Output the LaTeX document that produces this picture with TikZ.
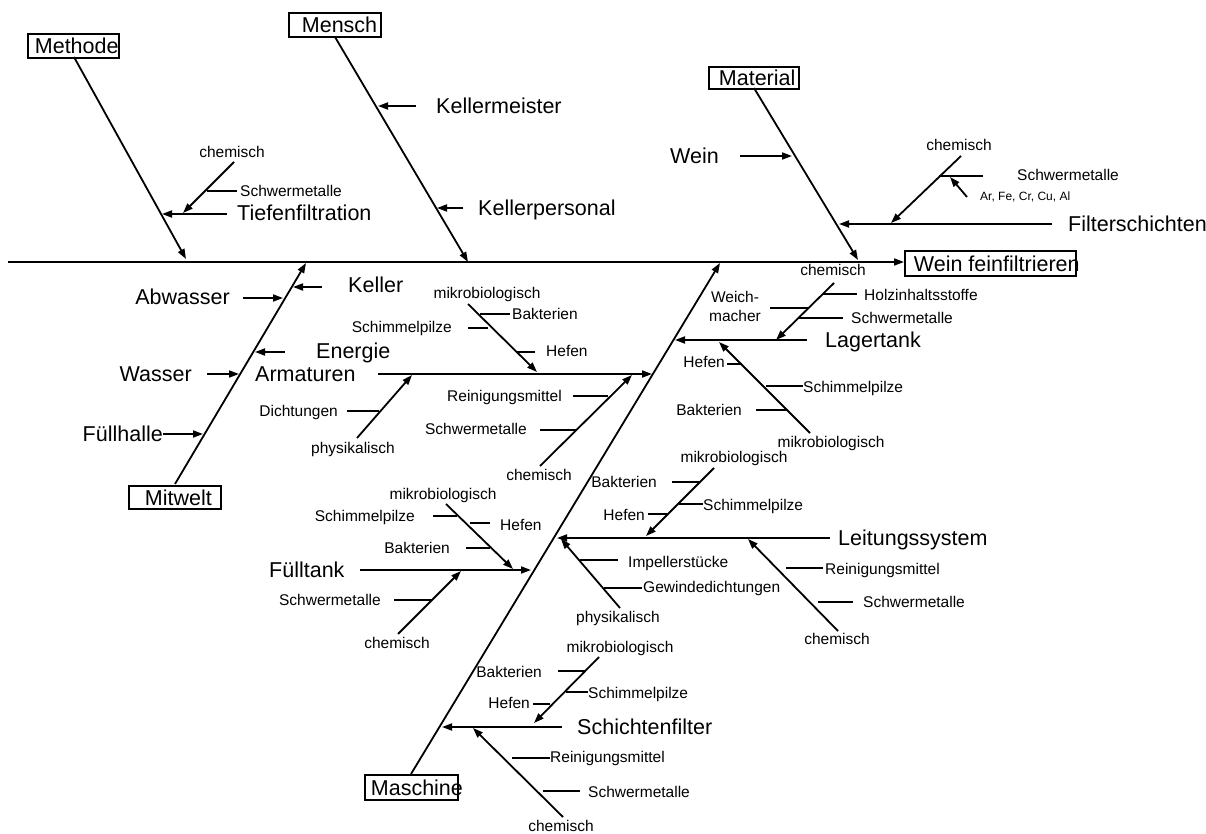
\documentclass[tikz,border=0pt]{standalone}
\usepackage{fontspec}
\setmainfont{Liberation Sans}
\usetikzlibrary{arrows.meta}
\begin{document}
\begin{tikzpicture}[x=1pt,y=-1pt,
  bone/.style={line width=1.8pt},
  arr/.style={line width=1.8pt,-{Triangle[length=10pt,width=7pt]}},
  lbl/.style={font=\fontsize{15.5}{18}\selectfont,inner sep=0pt,text height=11.2pt,text depth=0pt},
  big/.style={font=\fontsize{21.5}{24}\selectfont,inner sep=0pt,text height=15.4pt,text depth=0pt},
  tinylbl/.style={font=\fontsize{12}{14}\selectfont,inner sep=0pt,text height=8.6pt,text depth=0pt},
  catbox/.style={draw,line width=1.8pt,inner sep=0pt,minimum height=24pt,font=\fontsize{21.5}{24}\selectfont,anchor=north west}]
\useasboundingbox (0,0) rectangle (1206,834);

% ---------- spine and effect ----------
\node[catbox,minimum height=25pt] (eff) at (904,250) {\makebox[171pt][l]{\hspace{9pt}Wein feinfiltrieren}};
\coordinate (sp0) at (8,262);
\coordinate (sp1) at (904,262);
\draw[arr] (sp0) -- (sp1);

% ---------- Methode ----------
\node[catbox] (methode) at (27,33) {\makebox[91pt][l]{\hspace{7pt}Methode}};
\coordinate (meT) at (74,57); \coordinate (meB) at (186,259);
\draw[arr] (meT) -- (meB);
\node[big,anchor=west] (tief) at (237,213) {Tiefenfiltration};
\draw[arr] (227,214) -- (162,214);
\node[lbl] (tchem) at (232,152) {chemisch};
\draw[arr] (234,162) -- (183,213);
\node[lbl,anchor=west] (tschw) at (240,191) {Schwermetalle};
\draw[bone] (207,191) -- (237,191);

% ---------- Mensch ----------
\node[catbox] (mensch) at (288,12) {\makebox[92pt][l]{\hspace{13pt}Mensch}};
\coordinate (mnT) at (335,37); \coordinate (mnB) at (468,262);
\draw[arr] (mnT) -- (mnB);
\node[big,anchor=west] (kmeis) at (436,106) {Kellermeister};
\draw[arr] (416,106) -- (378,106);
\node[big,anchor=west] (kpers) at (478,208) {Kellerpersonal};
\draw[arr] (463,208) -- (437,208);

% ---------- Material ----------
\node[catbox,minimum height=22pt] (material) at (708,66) {\makebox[90pt][l]{\hspace{10pt}Material}};
\coordinate (maT) at (754,88); \coordinate (maB) at (858,260);
\draw[arr] (maT) -- (maB);
\node[big,anchor=west] (wein) at (670,156) {Wein};
\draw[arr] (740,156) -- (792,156);
\node[big,anchor=west] (filt) at (1068,224) {Filterschichten};
\draw[arr] (1052,224) -- (839,224);
\node[lbl] (fchem) at (959,145) {chemisch};
\draw[arr] (961,156) -- (891,223);
\draw[bone] (939,176) -- (983,176);
\node[lbl,anchor=west] (fschw) at (1017,175) {Schwermetalle};
\draw[arr] (967,197) -- (950,177);
\node[tinylbl,anchor=west] (fmet) at (980,196) {Ar, Fe, Cr, Cu, Al};

% ---------- Mitwelt ----------
\node[catbox,minimum height=23pt] (mitwelt) at (128,485) {\makebox[92pt][l]{\hspace{16pt}Mitwelt}};
\coordinate (mwB) at (175,484); \coordinate (mwT) at (306,263);
\draw[arr] (mwB) -- (mwT);
\node[big,anchor=west] (keller) at (348,285) {Keller};
\draw[arr] (322,287) -- (293,287);
\node[big,anchor=east] (abw) at (230,297) {Abwasser};
\draw[arr] (243,298) -- (283,298);
\node[big,anchor=west] (energ) at (316,351) {Energie};
\draw[arr] (285,352) -- (255,352);
\node[big,anchor=east] (wass) at (192,374) {Wasser};
\draw[arr] (207,374) -- (239,374);
\node[big,anchor=east] (fuellh) at (163,434) {Füllhalle};
\draw[arr] (fuellh.east) -- (203,434);

% ---------- Maschine ----------
\node[catbox,minimum height=25pt] (maschine) at (364,774) {\makebox[93pt][l]{\hspace{6pt}Maschine}};
\coordinate (msB) at (411,774); \coordinate (msT) at (720,263);
\draw[arr] (msB) -- (msT);

% Armaturen
\node[big,anchor=west] (armat) at (255,374) {Armaturen};
\draw[arr] (378,374) -- (652,374);
\node[lbl] (amik) at (487,293) {mikrobiologisch};
\draw[arr] (468,304) -- (537,372);
\draw[bone] (480,314) -- (510,314);
\node[lbl,anchor=west] (abak) at (512,314) {Bakterien};
\draw[bone] (468,328) -- (488,328);
\node[lbl,anchor=east] (aschi) at (452,327) {Schimmelpilze};
\draw[bone] (517,352) -- (535,352);
\node[lbl,anchor=west] (ahef) at (546,351) {Hefen};
\node[lbl] (achem) at (539,475) {chemisch};
\draw[arr] (540,466) -- (632,375);
\draw[bone] (573,396) -- (608,396);
\node[lbl,anchor=east] (arein) at (562,396) {Reinigungsmittel};
\draw[bone] (540,430) -- (577,430);
\node[lbl,anchor=east] (aschw) at (527,429) {Schwermetalle};
\node[lbl] (aphys) at (353,448) {physikalisch};
\draw[arr] (357,438) -- (412,375);
\draw[bone] (347,411) -- (379,411);
\node[lbl,anchor=east] (adich) at (338,411) {Dichtungen};

% Lagertank
\node[big,anchor=west] (lager) at (825,340) {Lagertank};
\draw[arr] (807,340) -- (675,340);
\node[lbl] (lchem) at (833,270) {chemisch};
\draw[arr] (834,283) -- (776,340);
\draw[bone] (823,294) -- (857,294);
\node[lbl,anchor=west] (lholz) at (864,295) {Holzinhaltsstoffe};
\draw[bone] (798,318) -- (843,318);
\node[lbl,anchor=west] (lschw) at (851,318) {Schwermetalle};
\draw[bone] (770,308) -- (808,308);
\node[font=\fontsize{15.5}{19}\selectfont,inner sep=0pt,align=center] (lweich) at (735,306) {Weich-\\macher};
\node[lbl] (lmik) at (831,442) {mikrobiologisch};
\draw[arr] (810,433) -- (719,342);
\draw[bone] (727,364) -- (742,364);
\node[lbl,anchor=east] (lhef) at (725,362) {Hefen};
\draw[bone] (766,386) -- (803,386);
\node[lbl,anchor=west] (lschi) at (803,387) {Schimmelpilze};
\draw[bone] (756,410) -- (788,410);
\node[lbl,anchor=east] (lbak) at (742,410) {Bakterien};

% Leitungssystem
\node[big,anchor=west] (leit) at (838,538) {Leitungssystem};
\draw[arr] (830,538) -- (557,538);
\node[lbl] (imik) at (734,457) {mikrobiologisch};
\draw[arr] (714,468) -- (646,536);
\draw[bone] (672,482) -- (699,482);
\node[lbl,anchor=east] (ibak) at (657,482) {Bakterien};
\draw[bone] (679,504) -- (703,504);
\node[lbl,anchor=west] (ischi) at (703,505) {Schimmelpilze};
\draw[bone] (648,514) -- (667,514);
\node[lbl,anchor=east] (ihef) at (645,515) {Hefen};
\node[lbl] (iphys) at (618,617) {physikalisch};
\draw[arr] (620,608) -- (561,539);
\draw[bone] (580,560) -- (618,560);
\node[lbl,anchor=west] (iimp) at (628,562) {Impellerstücke};
\draw[bone] (604,588) -- (642,588);
\node[lbl,anchor=west] (igew) at (643,587) {Gewindedichtungen};
\node[lbl] (ichem) at (837,639) {chemisch};
\draw[arr] (838,631) -- (748,539);
\draw[bone] (786,568) -- (823,568);
\node[lbl,anchor=west] (irein) at (825,569) {Reinigungsmittel};
\draw[bone] (818,602) -- (853,602);
\node[lbl,anchor=west] (ischw) at (863,602) {Schwermetalle};

% Fülltank
\node[big,anchor=west] (ftank) at (269,570) {Fülltank};
\draw[arr] (360,570) -- (531,570);
\node[lbl] (fmik) at (443,494) {mikrobiologisch};
\draw[arr] (446,504) -- (513,569);
\draw[bone] (433,516) -- (457,516);
\node[lbl,anchor=east] (fschi) at (415,516) {Schimmelpilze};
\draw[bone] (470,523) -- (490,523);
\node[lbl,anchor=west] (fhef) at (500,525) {Hefen};
\draw[bone] (466,548) -- (490,548);
\node[lbl,anchor=east] (fbak) at (450,548) {Bakterien};
\node[lbl] (fchem2) at (397,643) {chemisch};
\draw[arr] (398,634) -- (461,571);
\draw[bone] (394,600) -- (432,600);
\node[lbl,anchor=east] (fschw2) at (381,600) {Schwermetalle};

% Schichtenfilter
\node[big,anchor=west] (schicht) at (577,727) {Schichtenfilter};
\draw[arr] (562,727) -- (442,727);
\node[lbl] (smik) at (620,647) {mikrobiologisch};
\draw[arr] (599,657) -- (534,723);
\draw[bone] (558,671) -- (585,671);
\node[lbl,anchor=east] (sbak) at (542,672) {Bakterien};
\draw[bone] (566,692) -- (588,692);
\node[lbl,anchor=west] (sschi) at (588,693) {Schimmelpilze};
\draw[bone] (533,704) -- (550,704);
\node[lbl,anchor=east] (shef) at (530,703) {Hefen};
\node[lbl] (schem) at (561,826) {chemisch};
\draw[arr] (563,817) -- (473,728);
\draw[bone] (512,758) -- (550,758);
\node[lbl,anchor=west] (srein) at (550,757) {Reinigungsmittel};
\draw[bone] (543,791) -- (580,791);
\node[lbl,anchor=west] (sschw) at (588,792) {Schwermetalle};
\end{tikzpicture}
\end{document}
